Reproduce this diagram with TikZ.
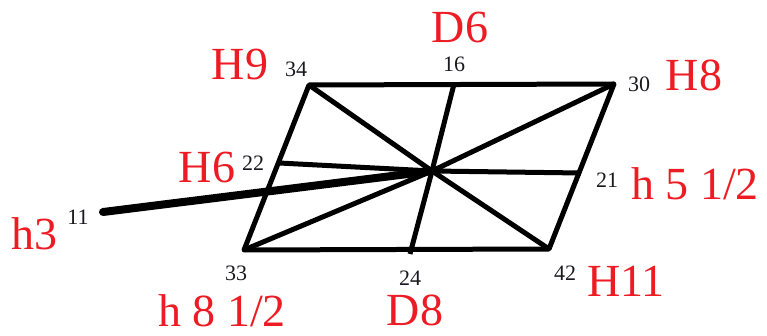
\documentclass[tikz,border=0pt]{standalone}
\usepackage{fontspec}
\setmainfont{Liberation Serif}
\definecolor{lblred}{RGB}{237,28,36}
\definecolor{numcol}{RGB}{25,25,30}
\begin{document}
\begin{tikzpicture}[x=1pt,y=-1pt,
  edge/.style={line width=5pt,line join=round},
  thickedge/.style={line width=8pt,line cap=round},
  biglbl/.style={inner sep=0pt,anchor=base,text=lblred,font=\fontsize{46}{46}\selectfont},
  numlbl/.style={inner sep=0pt,anchor=base,text=numcol,font=\fontsize{22}{22}\selectfont}]
\useasboundingbox (0,0) rectangle (767,336);
% points
\coordinate (p34) at (309,85);
\coordinate (p30) at (614,84);
\coordinate (p42) at (549,249);
\coordinate (p33) at (244,250);
\coordinate (p16) at (454,84);
\coordinate (p24) at (410,254);
\coordinate (p22) at (279,163);
\coordinate (p21) at (581,173);
\coordinate (p11) at (103,212);
\coordinate (c) at (432,171);
% frame
\draw[edge] (p34) -- (p30) -- (p42) -- (p33) -- cycle;
% spokes
\draw[edge] (c) -- (p34);
\draw[edge] (c) -- (p30);
\draw[edge] (c) -- (p42);
\draw[edge] (c) -- (p33);
\draw[edge] (c) -- (p16);
\draw[edge] (c) -- (p24);
\draw[edge] (c) -- (p22);
\draw[edge] (c) -- (p21);
\draw[thickedge] (p11) -- (c);
% numbers
\node[numlbl] (n34) at (296,77) {34};
\node[numlbl] (n16) at (454,72) {16};
\node[numlbl] (n30) at (639,92) {30};
\node[numlbl] (n22) at (253,171) {22};
\node[numlbl] (n21) at (607,188) {21};
\node[numlbl] (n11) at (78,225) {11};
\node[numlbl] (n33) at (236,280) {33};
\node[numlbl] (n24) at (410,285) {24};
\node[numlbl] (n42) at (565,280) {42};
% labels
\node[biglbl] (lH9) at (240,80) {H9};
\node[biglbl] (lD6) at (460,43) {D6};
\node[biglbl] (lH8) at (694,91) {H8};
\node[biglbl] (lH6) at (207,183) {H6};
\node[biglbl] (lh3) at (34,250) {h3};
\node[biglbl] (lh812) at (222,326) {h 8 1/2};
\node[biglbl] (lD8) at (415,325) {D8};
\node[biglbl] (lH11) at (626,296) {H11};
\node[biglbl] (lh512) at (695,200) {h 5 1/2};
\end{tikzpicture}
\end{document}
